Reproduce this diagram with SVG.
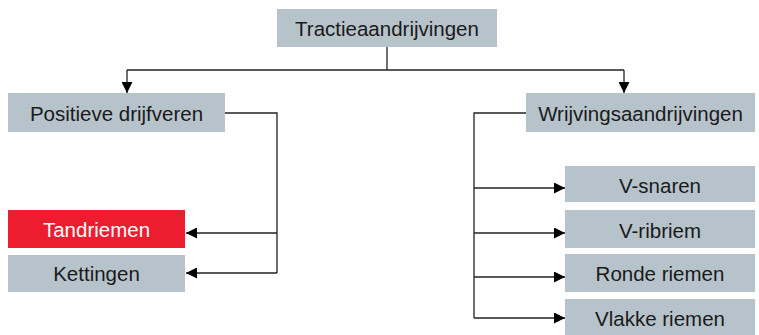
<svg xmlns="http://www.w3.org/2000/svg" width="759" height="335" viewBox="0 0 759 335">
  <style>
    .box { fill: #b7c3cb; }
    .hot { fill: #ed1c2e; }
    .lbl { font-family: "Liberation Sans", Arial, sans-serif; font-size: 20.5px; fill: #1a1a1a; text-anchor: middle; dominant-baseline: central; }
    .lbl.light { fill: #ffffff; }
    .wire { fill: none; stroke: #222; stroke-width: 1.3; }
  </style>
  <defs>
    <marker id="arrow" viewBox="0 0 10 10" refX="10" refY="5" markerWidth="15" markerHeight="11" markerUnits="userSpaceOnUse" orient="auto">
      <path d="M0,0 L10,5 L0,10 Z" fill="#000"/>
    </marker>
  </defs>

  <g id="connectors">
    <path class="wire" d="M387,47 V70"/>
    <path class="wire" d="M127,70 H624"/>
    <path class="wire" d="M127,70 V93" marker-end="url(#arrow)"/>
    <path class="wire" d="M624,70 V93" marker-end="url(#arrow)"/>
    <path class="wire" d="M225,113 H277 V273"/>
    <path class="wire" d="M277,233 H186" marker-end="url(#arrow)"/>
    <path class="wire" d="M277,273 H186" marker-end="url(#arrow)"/>
    <path class="wire" d="M526,113 H474 V318"/>
    <path class="wire" d="M474,188 H565" marker-end="url(#arrow)"/>
    <path class="wire" d="M474,233 H565" marker-end="url(#arrow)"/>
    <path class="wire" d="M474,277 H565" marker-end="url(#arrow)"/>
    <path class="wire" d="M474,318 H565" marker-end="url(#arrow)"/>
  </g>

  <g id="tractieaandrijvingen">
    <rect class="box" x="277" y="9" width="220" height="38"/>
    <text class="lbl" x="387" y="28">Tractieaandrijvingen</text>
  </g>
  <g id="positieve-drijfveren">
    <rect class="box" x="8" y="93" width="217" height="39"/>
    <text class="lbl" x="116.5" y="113">Positieve drijfveren</text>
  </g>
  <g id="wrijvingsaandrijvingen">
    <rect class="box" x="526" y="93" width="229" height="39"/>
    <text class="lbl" x="640.5" y="113">Wrijvingsaandrijvingen</text>
  </g>
  <g id="tandriemen">
    <rect class="hot" x="8" y="210" width="177" height="38"/>
    <text class="lbl light" x="96.5" y="229">Tandriemen</text>
  </g>
  <g id="kettingen">
    <rect class="box" x="8" y="255" width="177" height="37"/>
    <text class="lbl" x="96.5" y="273.5">Kettingen</text>
  </g>
  <g id="v-snaren">
    <rect class="box" x="565" y="166" width="190" height="36"/>
    <text class="lbl" x="660" y="185">V-snaren</text>
  </g>
  <g id="v-ribriem">
    <rect class="box" x="565" y="210" width="190" height="38"/>
    <text class="lbl" x="660" y="230">V-ribriem</text>
  </g>
  <g id="ronde-riemen">
    <rect class="box" x="565" y="254" width="190" height="38"/>
    <text class="lbl" x="660" y="273">Ronde riemen</text>
  </g>
  <g id="vlakke-riemen">
    <rect class="box" x="565" y="299" width="190" height="36"/>
    <text class="lbl" x="660" y="318">Vlakke riemen</text>
  </g>
</svg>
